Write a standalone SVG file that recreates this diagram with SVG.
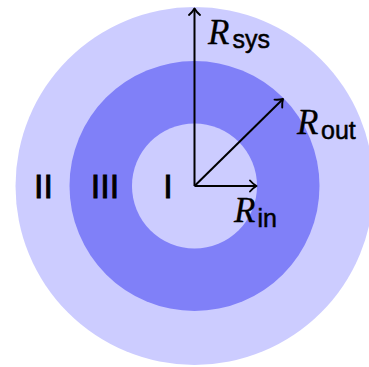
<svg xmlns="http://www.w3.org/2000/svg" width="369" height="367" viewBox="0 0 369 367">
  <style>
    .light { fill: #ccccff; }
    .mid { fill: #8080f8; }
    .num { font-family: "Liberation Sans", Arial, sans-serif; font-size: 34px; fill: #000; stroke: #000; stroke-width: 0.9; text-anchor: middle; }
    .rv { font-family: "Liberation Serif", "Times New Roman", serif; font-style: italic; font-size: 35px; fill: #000; stroke: #000; stroke-width: 0.3; }
    .sub { font-family: "Liberation Sans", Arial, sans-serif; font-style: normal; font-size: 25px; stroke-width: 0.5; }
    .arrow { stroke: #000; stroke-width: 2; fill: none; marker-end: url(#to); }
  </style>
  <defs>
    <marker id="to" viewBox="-8 -7 10 14" markerWidth="10" markerHeight="14" refX="0" refY="0" markerUnits="userSpaceOnUse" orient="auto">
      <path d="M -6.5,-5.5 C -4,-2.5 -1.2,-0.7 0,0 C -1.2,0.7 -4,2.5 -6.5,5.5" fill="none" stroke="#000" stroke-width="1.9" stroke-linecap="round" stroke-linejoin="round"/>
    </marker>
  </defs>
  <g id="region-II">
    <circle class="light" cx="194.5" cy="186" r="179"/>
    <text class="num" x="43.5" y="198">II</text>
  </g>
  <g id="region-III">
    <circle class="mid" cx="194.5" cy="186" r="125"/>
    <text class="num" x="105" y="198">III</text>
  </g>
  <g id="region-I">
    <circle class="light" cx="194.5" cy="186" r="62.5"/>
    <text class="num" x="168" y="198">I</text>
  </g>
  <g id="connectors">
    <line class="arrow" x1="194.5" y1="186" x2="194.5" y2="8.5"/>
    <line class="arrow" x1="194.5" y1="186" x2="256.5" y2="186"/>
    <line class="arrow" x1="194.5" y1="186" x2="283" y2="99"/>
  </g>
  <g id="label-Rsys">
    <text class="rv" x="208" y="44">R<tspan class="sub" x="232.5" y="48">sys</tspan></text>
  </g>
  <g id="label-Rout">
    <text class="rv" x="297" y="134">R<tspan class="sub" x="321" y="139">out</tspan></text>
  </g>
  <g id="label-Rin">
    <text class="rv" x="234" y="222">R<tspan class="sub" x="257.5" y="227">in</tspan></text>
  </g>
</svg>
